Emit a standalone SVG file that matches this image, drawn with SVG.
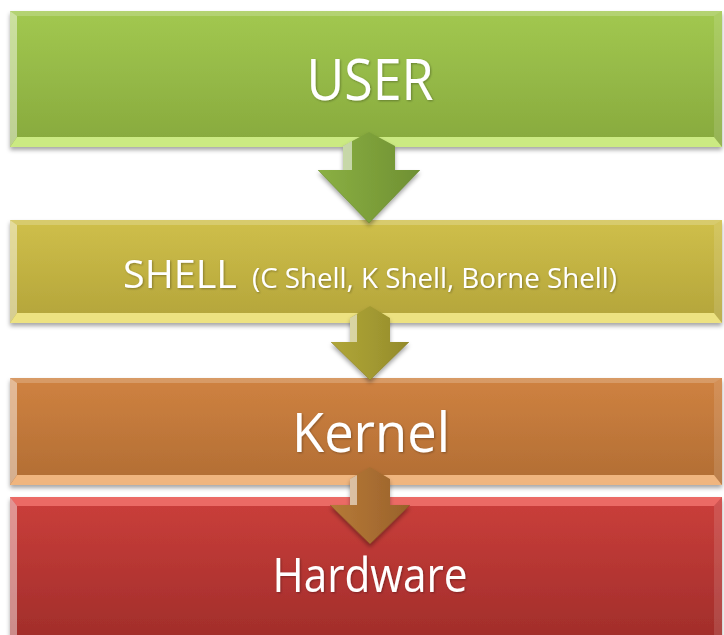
<svg xmlns="http://www.w3.org/2000/svg" width="724" height="635" viewBox="0 0 724 635">
<defs>
  <linearGradient id="gUser" x1="0" y1="0" x2="0" y2="1">
    <stop offset="0" stop-color="#a2c850"/>
    <stop offset="1" stop-color="#87a93d"/>
  </linearGradient>
  <linearGradient id="gShell" x1="0" y1="0" x2="0" y2="1">
    <stop offset="0" stop-color="#cfbf4a"/>
    <stop offset="1" stop-color="#b3a43a"/>
  </linearGradient>
  <linearGradient id="gKernel" x1="0" y1="0" x2="0" y2="1">
    <stop offset="0" stop-color="#cf8241"/>
    <stop offset="1" stop-color="#b16d33"/>
  </linearGradient>
  <linearGradient id="gHw" x1="0" y1="0" x2="0" y2="1">
    <stop offset="0" stop-color="#cb3f3b"/>
    <stop offset="1" stop-color="#a02d2a"/>
  </linearGradient>
  <linearGradient id="aUser" x1="0" y1="0" x2="1" y2="0">
    <stop offset="0" stop-color="#8bb044"/>
    <stop offset="0.5" stop-color="#7da03a"/>
    <stop offset="1" stop-color="#6f9033"/>
  </linearGradient>
  <linearGradient id="aShell" x1="0" y1="0" x2="1" y2="0">
    <stop offset="0" stop-color="#b0a639"/>
    <stop offset="0.5" stop-color="#a39a31"/>
    <stop offset="1" stop-color="#938a2b"/>
  </linearGradient>
  <linearGradient id="aKernel" x1="0" y1="0" x2="1" y2="0">
    <stop offset="0" stop-color="#b57a38"/>
    <stop offset="0.5" stop-color="#a96e31"/>
    <stop offset="1" stop-color="#98622b"/>
  </linearGradient>
  <filter id="shadow" x="-5%" y="-10%" width="110%" height="130%">
    <feDropShadow dx="0" dy="3" stdDeviation="2" flood-color="#000" flood-opacity="0.35"/>
  </filter>
  <filter id="tshadow" x="-10%" y="-20%" width="120%" height="140%">
    <feDropShadow dx="1" dy="1" stdDeviation="0.8" flood-color="#000" flood-opacity="0.3"/>
  </filter>
</defs>
<style>
  .lbl { font-family: "Open Sans", "Liberation Sans", sans-serif; fill: #ffffff; filter: url(#tshadow); }
  .bevL { fill: #ffffff; opacity: 0.45; }
  .bevT { fill: #ffffff; opacity: 0.2; }
  .bevR { fill: #ffffff; opacity: 0.12; }
  .hl { fill: #ffffff; opacity: 0.55; }
</style>

<g id="user">
  <rect x="10" y="11" width="712" height="136" fill="url(#gUser)" filter="url(#shadow)"/>
  <polygon class="bevT" points="10,11 722,11 714,16 17,16"/>
  <polygon class="bevL" points="10,11 17,16 17,137 10,147"/>
  <polygon points="10,147 17,137 714,137 722,147" fill="#d3f18a" opacity="0.9"/>
  <polygon class="bevR" points="722,11 714,16 714,137 722,147"/>
  <text class="lbl" x="370" y="100" font-size="56" text-anchor="middle" textLength="127" lengthAdjust="spacingAndGlyphs">USER</text>
</g>

<g id="shell">
  <rect x="10" y="220" width="712" height="103" fill="url(#gShell)" filter="url(#shadow)"/>
  <polygon class="bevT" points="10,220 722,220 714,225 17,225"/>
  <polygon class="bevL" points="10,220 17,225 17,313 10,323"/>
  <polygon points="10,323 17,313 714,313 722,323" fill="#f3e98a" opacity="0.9"/>
  <polygon class="bevR" points="722,220 714,225 714,313 722,323"/>
  <text class="lbl" x="123" y="288" font-size="39" textLength="114" lengthAdjust="spacingAndGlyphs">SHELL</text>
  <text class="lbl" x="252" y="288" font-size="27" textLength="365" lengthAdjust="spacingAndGlyphs">(C Shell, K Shell, Borne Shell)</text>
</g>

<g id="kernel">
  <rect x="10" y="378" width="712" height="107" fill="url(#gKernel)" filter="url(#shadow)"/>
  <polygon class="bevT" points="10,378 722,378 714,383 17,383"/>
  <polygon class="bevL" points="10,378 17,383 17,475 10,485"/>
  <polygon points="10,485 17,475 714,475 722,485" fill="#f6bd86" opacity="0.9"/>
  <polygon class="bevR" points="722,378 714,383 714,475 722,485"/>
  <text class="lbl" x="371" y="452" font-size="54" text-anchor="middle" textLength="158" lengthAdjust="spacingAndGlyphs">Kernel</text>
</g>

<g id="hardware">
  <rect x="10" y="497" width="712" height="145" fill="url(#gHw)" filter="url(#shadow)"/>
  <polygon points="10,497 722,497 714,506 17,506" fill="#ee6f6a" opacity="0.9"/>
  <polygon class="bevL" points="10,497 17,506 17,640 10,640" opacity="0.25"/>
  <polygon class="bevR" points="722,497 714,506 714,640 722,640"/>
  <text class="lbl" x="370" y="592" font-size="48" text-anchor="middle" textLength="195" lengthAdjust="spacingAndGlyphs">Hardware</text>
</g>

<g id="connectors">
  <g filter="url(#shadow)">
    <polygon fill="url(#aUser)" points="343,146 369,132 395,146 395,170 420,170 369,223 318,170 343,170"/>
    <polygon class="hl" points="343,146 352,141 352,170 343,170" opacity="0.4"/>
    <polyline points="318,170 369,223 420,170" fill="none" stroke="#5f7f2a" stroke-width="1" opacity="0.5"/>
  </g>
  <g filter="url(#shadow)">
    <polygon fill="url(#aShell)" points="350,318 370,306 390,318 390,342 409,342 370,380 331,342 350,342"/>
    <polygon class="hl" points="350,318 357,314 357,342 350,342" opacity="0.4"/>
    <polyline points="331,342 370,380 409,342" fill="none" stroke="#7f7722" stroke-width="1" opacity="0.5"/>
  </g>
  <g filter="url(#shadow)">
    <polygon fill="url(#aKernel)" points="350,479 370,467 390,479 390,505 410,505 370,544 330,505 350,505"/>
    <polygon class="hl" points="350,479 357,475 357,505 350,505" opacity="0.4"/>
    <polyline points="330,505 370,544 410,505" fill="none" stroke="#7f5222" stroke-width="1" opacity="0.5"/>
  </g>
</g>
</svg>
